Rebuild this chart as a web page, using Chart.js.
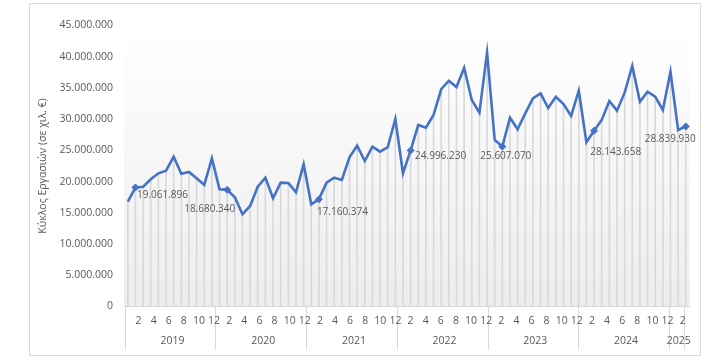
<!DOCTYPE html>
<html><head><meta charset="utf-8">
<script src="https://cdn.jsdelivr.net/npm/chart.js@4.4.1/dist/chart.umd.min.js"></script>
<style>
html,body{margin:0;padding:0;background:#fff;}
#wrap{position:relative;width:722px;height:364px;}
#frame{position:absolute;left:29px;top:3px;width:672px;height:353px;border:1px solid #d9d9d9;box-sizing:border-box;}
canvas{position:absolute;left:0;top:0;}
</style></head><body>
<div id="wrap"><div id="frame"></div><canvas id="c" width="722" height="364"></canvas></div>
<script>
// Month number of each point (Jan 2019 .. Feb 2025)
const months = [1,2,3,4,5,6,7,8,9,10,11,12,
                1,2,3,4,5,6,7,8,9,10,11,12,
                1,2,3,4,5,6,7,8,9,10,11,12,
                1,2,3,4,5,6,7,8,9,10,11,12,
                1,2,3,4,5,6,7,8,9,10,11,12,
                1,2,3,4,5,6,7,8,9,10,11,12,
                1,2];
const yearNames = ['2019','2020','2021','2022','2023','2024','2025'];
const yearLengths = [12,12,12,12,12,12,2];
// Turnover (thousand €)
const turnover = [
  16780000,19061896,19190000,20370000,21330000,21750000,23990000,21270000,21540000,20530000,19460000,23730000,
  18770000,18680340,17490000,14770000,16100000,19190000,20630000,17330000,19830000,19780000,18290000,22770000,
  16370000,17160374,19830000,20630000,20260000,23890000,25750000,23300000,25590000,24790000,25500000,30030000,
  21330000,24996230,29070000,28640000,30670000,34790000,36160000,35150000,38240000,33070000,31040000,40650000,
  26670000,25607070,30240000,28380000,30940000,33340000,34140000,31790000,33600000,32430000,30510000,34560000,
  26300000,28143658,29870000,32910000,31360000,34240000,38520000,32800000,34400000,33600000,31470000,37600000,
  28270000,28839930];
const markedIndex = [1,13,25,37,49,61,73];
const yMin = 0, yMax = 45000000, yStep = 5000000;
const yTitle = 'Κύκλος Εργασιών (σε χιλ. €)';

// label placement (left edge dx, centre dy relative to marker)
const labelOffsets = [[1.5,8],[-43,19],[-2,13],[4.5,5.5],[-22,10],[-3.8,21],[-41,13]];

const fmt = v => String(Math.round(v)).replace(/\B(?=(\d{3})+(?!\d))/g, '.');

const boundaries = [], centers = [];
let start = 0;
yearLengths.forEach(n => { boundaries.push(start - 0.5); centers.push(start + (n - 1) / 2); start += n; });
boundaries.push(start - 0.5);

const textColor = '#595959';
const font = '"Open Sans", "Liberation Sans", sans-serif';

const bgPlugin = {
  id: 'plotBg',
  beforeDraw(chart) {
    const a = chart.chartArea, c = chart.ctx;
    const g = c.createLinearGradient(0, a.top, 0, a.bottom);
    g.addColorStop(0, '#ffffff');
    g.addColorStop(1, '#ededed');
    c.save(); c.fillStyle = g; c.fillRect(a.left, a.top, a.right - a.left, a.bottom - a.top); c.restore();
  }
};
const labelPlugin = {
  id: 'valueLabels',
  afterDatasetsDraw(chart) {
    const meta = chart.getDatasetMeta(1);
    const c = chart.ctx;
    c.save();
    c.font = '10px ' + font; c.fillStyle = textColor; c.textAlign = 'left'; c.textBaseline = 'middle';
    markedIndex.forEach((idx, k) => {
      const p = meta.data[idx];
      c.fillText(fmt(turnover[idx]), p.x + labelOffsets[k][0], p.y + labelOffsets[k][1]);
    });
    c.restore();
  }
};

new Chart(document.getElementById('c'), {
  type: 'bar',
  data: {
    labels: months.map(String),
    datasets: [
      { type: 'bar', data: turnover, backgroundColor: '#d9d9d9', barThickness: 1, order: 2 },
      { type: 'line', data: turnover, borderColor: '#4472C4', borderWidth: 2.6, fill: false, tension: 0,
        pointStyle: 'rectRot', pointBackgroundColor: '#4472C4', pointBorderColor: '#4472C4', pointBorderWidth: 1,
        pointRadius: ctx => markedIndex.includes(ctx.dataIndex) ? 3.5 : 0, order: 1 }
    ]
  },
  options: {
    responsive: false, animation: false,
    layout: { padding: { left: 33, right: 32.4, top: 25.5, bottom: 13.5 } },
    plugins: { legend: { display: false }, tooltip: { enabled: false } },
    scales: {
      x: { type: 'category', display: false, offset: true, grid: { display: false } },
      x2: {
        type: 'linear', axis: 'x', position: 'bottom', min: -0.5, max: 73.5,
        afterBuildTicks: axis => {
          const t = months.map((m, i) => i).concat(centers, boundaries).sort((a, b) => a - b);
          axis.ticks = t.map(v => ({ value: v }));
        },
        afterFit: s => { s.height = 44; },
        grid: { drawOnChartArea: false, tickLength: 43, lineWidth: 1,
          color: ctx => (ctx.tick && boundaries.includes(ctx.tick.value)) ? '#d9d9d9' : 'rgba(0,0,0,0)' },
        border: { display: true, color: '#d9d9d9' },
        ticks: {
          autoSkip: false, maxRotation: 0, minRotation: 0, padding: -39,
          color: textColor, font: { family: font, size: 10.5, lineHeight: 1.95 },
          callback: v => {
            if (Number.isInteger(v)) { const m = months[v]; return m % 2 === 0 ? String(m) : ''; }
            const ci = centers.indexOf(v);
            if (ci >= 0) return ['', yearNames[ci]];
            return '';
          }
        }
      },
      y: {
        min: yMin, max: yMax,
        afterFit: s => { s.width = 91; },
        grid: { display: false, drawTicks: false },
        border: { display: false },
        ticks: { stepSize: yStep, padding: 11, color: textColor, font: { family: font, size: 10.5 }, callback: v => fmt(v) },
        title: { display: true, text: yTitle, color: textColor, font: { family: font, size: 10.5 }, padding: { top: 4, bottom: 4 } }
      }
    }
  },
  plugins: [bgPlugin, labelPlugin]
});
</script>
</body></html>
